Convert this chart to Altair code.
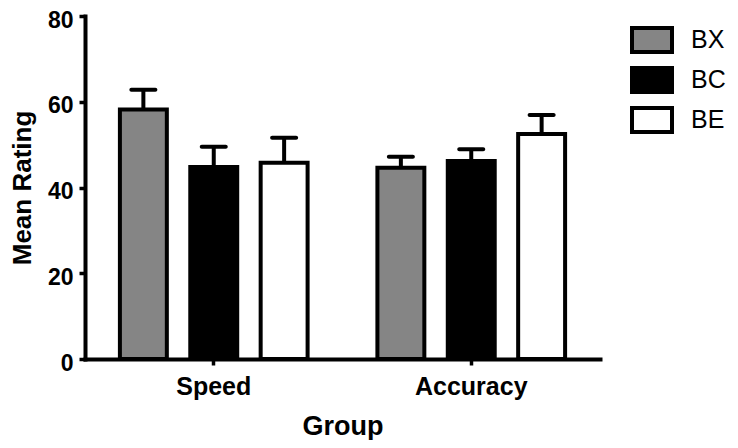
import altair as alt
import pandas as pd

groups = ["Speed", "Accuracy"]
series = ["BX", "BC", "BE"]
mean_speed = [58.2, 44.8, 45.8]
mean_accuracy = [44.6, 46.2, 52.5]
upper_speed = [62.8, 49.5, 51.6]
upper_accuracy = [47.2, 48.9, 56.9]
fills = ["#858585", "#000000", "#ffffff"]

rows = []
for g, means, ups in [("Speed", mean_speed, upper_speed), ("Accuracy", mean_accuracy, upper_accuracy)]:
    for s, m, u in zip(series, means, ups):
        rows.append({"Group": g, "Series": s, "Mean": m, "Upper": u})
df = pd.DataFrame(rows)

FONT = "Liberation Sans"

y_axis = alt.Axis(
    title="Mean Rating", values=[0, 20, 40, 60, 80], grid=False,
    labelFont=FONT, labelFontSize=23, labelFontWeight="bold", labelColor="black",
    labelPadding=6, labelOffset=4, tickSize=6, tickWidth=3.5, tickColor="black",
    domainColor="black", domainWidth=4, domainCap="square",
    titleFont=FONT, titleFontSize=26, titleFontWeight="bold", titleColor="black",
    titlePadding=12,
)
y_scale = alt.Scale(domain=[0, 80], nice=False)

base = alt.Chart(df).encode(
    x=alt.X(
        "Group:N", sort=groups,
        scale=alt.Scale(paddingInner=0.2, paddingOuter=0.1),
        axis=alt.Axis(
            title="Group", labelAngle=0, grid=False,
            labelFont=FONT, labelFontSize=25, labelFontWeight="bold", labelColor="black",
            labelPadding=9, tickSize=6, tickWidth=3.5, tickColor="black",
            domainColor="black", domainWidth=4, domainCap="square",
            titleFont=FONT, titleFontSize=27, titleFontWeight="bold", titleColor="black",
            titlePadding=14,
        ),
    ),
    xOffset=alt.XOffset("Series:N", sort=series, scale=alt.Scale(paddingInner=0.333, paddingOuter=0.13)),
)

bars = base.mark_bar(stroke="black", strokeWidth=4, strokeJoin="miter").encode(
    y=alt.Y("Mean:Q", scale=y_scale, axis=y_axis),
    fill=alt.Fill(
        "Series:N", sort=series,
        scale=alt.Scale(domain=series, range=fills),
        legend=alt.Legend(
            title=None, orient="none", legendX=549, legendY=6,
            symbolType="M-1.25,-0.75H1.25V0.75H-1.25Z", symbolSize=1024,
            symbolStrokeColor="black", symbolStrokeWidth=4,
            labelFont=FONT, labelFontSize=25, labelColor="black",
            labelOffset=21, rowPadding=0,
        ),
    ),
)

rules = base.mark_rule(color="black", strokeWidth=4).encode(
    y=alt.Y("Mean:Q", scale=y_scale, axis=y_axis),
    y2="Upper:Q",
)

caps = base.mark_tick(color="black", thickness=4, size=28, orient="horizontal", cornerRadius=2, opacity=1).encode(
    y=alt.Y("Upper:Q", scale=y_scale, axis=y_axis),
)

chart = alt.layer(rules, bars, caps).properties(
    width=515, height=343,
    autosize=alt.AutoSizeParams(type="none"),
    padding={"left": 77, "top": 8, "right": 130, "bottom": 81},
    background="white",
).configure_view(stroke=None)

chart.save("out.html", embed_options={"renderer": "svg", "actions": False})
